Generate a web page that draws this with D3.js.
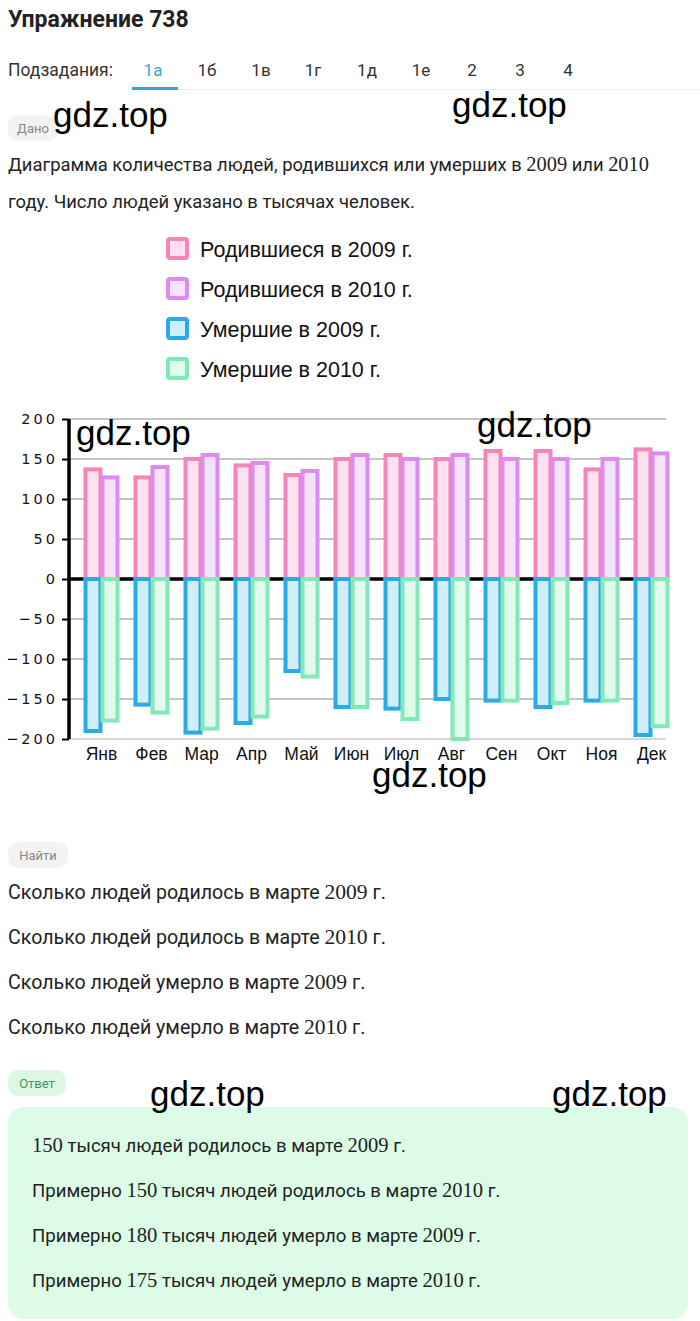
<!DOCTYPE html>
<html><head><meta charset="utf-8">
<script src="https://cdn.jsdelivr.net/npm/d3@7"></script>
<style>
html,body{margin:0;padding:0;background:#fff;}
svg{display:block;}
</style></head>
<body>
<script>
// ---- data ----
const months = ["Янв","Фев","Мар","Апр","Май","Июн","Июл","Авг","Сен","Окт","Ноя","Дек"];
const born2009 = [137,127,150,142,130,150,155,150,160,160,137,162];
const born2010 = [127,140,155,145,135,155,150,155,150,150,150,157];
const died2009 = [-190,-157,-192,-180,-115,-160,-162,-150,-152,-160,-152,-195];
const died2010 = [-177,-167,-187,-172,-122,-160,-175,-200,-152,-155,-152,-184];
const yTicks = [200,150,100,50,0,-50,-100,-150,-200];
const legendLabels = ["Родившиеся в 2009 г.","Родившиеся в 2010 г.","Умершие в 2009 г.","Умершие в 2010 г."];
const tabs = ["1а","1б","1в","1г","1д","1е","2","3","4"];
const questions = [["Сколько людей родилось в марте ","2009"," г."],["Сколько людей родилось в марте ","2010"," г."],["Сколько людей умерло в марте ","2009"," г."],["Сколько людей умерло в марте ","2010"," г."]];
const answers = [["150"," тысяч людей родилось в марте ","2009"," г."],["Примерно ","150"," тысяч людей родилось в марте ","2010"," г."],["Примерно ","180"," тысяч людей умерло в марте ","2009"," г."],["Примерно ","175"," тысяч людей умерло в марте ","2010"," г."]];

const W = 700, H = 1321;
const svg = d3.select("body").append("svg").attr("width", W).attr("height", H);
const PAGE = "Roboto, 'Noto Sans', sans-serif";
const MATH = "'Liberation Serif', 'DejaVu Serif', serif";
const ARIAL = "'Liberation Sans', Arial, sans-serif";

// ---- header ----
svg.append("text").attr("x",8).attr("y",27).attr("font-family",PAGE).attr("font-weight",700)
  .attr("font-size",23).attr("fill","#222").text("Упражнение 738");
svg.append("text").attr("x",8).attr("y",76).attr("font-family",PAGE).attr("font-size",17.5)
  .attr("fill","#333").text("Подзадания:");
const tabX = [153,207,261,313,367,421,472,520,568];
svg.append("line").attr("x1",132).attr("x2",700).attr("y1",89.5).attr("y2",89.5).attr("stroke","#ececec");
svg.selectAll(".tab").data(tabs).join("text").attr("class","tab")
  .attr("x",(d,i)=>tabX[i]).attr("y",76).attr("text-anchor","middle")
  .attr("font-family",PAGE).attr("font-size",17)
  .attr("fill",(d,i)=> i===0 ? "#3ba3dc" : "#333").text(d=>d);
svg.append("rect").attr("x",132).attr("y",87).attr("width",46).attr("height",3).attr("fill","#3ba3dc");

function pill(x,y,w,h,bg,fg,label){
  svg.append("rect").attr("x",x).attr("y",y).attr("width",w).attr("height",h).attr("rx",10).attr("fill",bg);
  svg.append("text").attr("x",x+w/2).attr("y",y+h/2+4.5).attr("text-anchor","middle")
    .attr("font-family",PAGE).attr("font-size",13).attr("fill",fg).text(label);
}
pill(8,115,50,26,"#f3f3f3","#888","Дано");

function mixed(x,y,parts,size){
  const t = svg.append("text").attr("x",x).attr("y",y).attr("font-size",size).attr("fill","#222");
  parts.forEach(p=>{
    const isNum = /^\d+$/.test(p);
    t.append("tspan").attr("font-family", isNum ? MATH : PAGE)
      .attr("font-size", isNum ? size+2 : size).text(p);
  });
  return t;
}
mixed(8,171,["Диаграмма количества людей, родившихся или умерших в ","2009"," или ","2010"],18.4);
mixed(8,208,["году. Число людей указано в тысячах человек."],18.4);

// ---- legend ----
const strokeCols = ["#f485b9","#dc8cf1","#2aabe6","#82e9b6"];
const fillCols   = ["#fde1f0","#f6e2fb","#cfedfa","#e3faef"];
const legY = [249,289,329,369];
legendLabels.forEach((lab,i)=>{
  svg.append("rect").attr("x",168).attr("y",legY[i]-10).attr("width",19).attr("height",19).attr("rx",2)
    .attr("fill",fillCols[i]).attr("stroke",strokeCols[i]).attr("stroke-width",4);
  svg.append("text").attr("x",200).attr("y",legY[i]+7.5).attr("font-family",ARIAL)
    .attr("font-size",21.5).attr("fill","#111").text(lab);
});

// ---- chart ----
const y = d3.scaleLinear().domain([-200,200]).range([739,419]);
const x0 = d3.scaleBand().domain(months).range([76.5,676.5]);
const axisX = 69, gridEnd = 666;

const g = svg.append("g");
g.selectAll(".grid").data(yTicks.filter(v=>v!==0)).join("line")
  .attr("x1",axisX).attr("x2",gridEnd).attr("y1",d=>y(d)).attr("y2",d=>y(d))
  .attr("stroke",d=> d===-200 ? "#b0b0b0" : "#8c8c8c").attr("stroke-width",1);
g.append("line").attr("x1",axisX).attr("x2",gridEnd).attr("y1",y(0)).attr("y2",y(0))
  .attr("stroke","#000").attr("stroke-width",3.5);

const series = [born2009, born2010, died2009, died2010];
series.forEach((vals,si)=>{
  const side = si % 2;
  g.selectAll(".bar"+si).data(vals).join("rect")
    .attr("x",(d,i)=> x0(months[i]) + x0.bandwidth()/2 + (side===0 ? -16 : 1))
    .attr("width",15)
    .attr("y",d=> Math.min(y(d),y(0)))
    .attr("height",d=> Math.abs(y(d)-y(0)))
    .attr("fill",fillCols[si]).attr("stroke",strokeCols[si]).attr("stroke-width",4);
});

const yAxis = d3.axisLeft(y).tickValues(yTicks).tickSize(7).tickPadding(4).tickFormat(d=>d.toString().replace("-","−"));
const ya = svg.append("g").attr("transform",`translate(${axisX},0)`).call(yAxis);
ya.select(".domain").attr("stroke","#000").attr("stroke-width",3.5).attr("d",`M0,${y(200)}V${y(-200)}`);
ya.selectAll(".tick line").attr("stroke","#000").attr("stroke-width",2);
ya.selectAll(".tick text").attr("font-family","'DejaVu Sans', sans-serif").attr("font-size",14.5)
  .attr("letter-spacing","3px").attr("fill","#111");

const xa = svg.append("g").attr("transform",`translate(0,${y(-200)})`)
  .call(d3.axisBottom(x0).tickSize(0).tickPadding(0));
xa.select(".domain").remove();
xa.selectAll(".tick text").attr("font-family",ARIAL).attr("font-size",17.5)
  .attr("fill","#111").attr("dy",0).attr("y",21);

// ---- find ----
pill(8,842,60,26,"#f3f3f3","#888","Найти");
const qY = [899,944,989,1034];
questions.forEach((q,i)=> mixed(8,qY[i],q,19.6));

// ---- answer ----
pill(8,1070,58,26,"#ddf7e6","#3b9a62","Ответ");
svg.append("rect").attr("x",8).attr("y",1107).attr("width",680).attr("height",212).attr("rx",16).attr("fill","#dcfce7");
const aY = [1152,1197,1242,1287];
answers.forEach((a,i)=> mixed(32,aY[i],a,18.6));

// ---- watermarks ----
const marks = [[53,127],[452,117],[76,445],[477,437],[372,787],[150,1106],[552,1106]];
svg.selectAll(".wm").data(marks).join("text").attr("class","wm")
  .attr("x",d=>d[0]).attr("y",d=>d[1]).attr("font-family",ARIAL)
  .attr("font-size",35).attr("fill","#000").text("gdz.top");
</script>
</body></html>
